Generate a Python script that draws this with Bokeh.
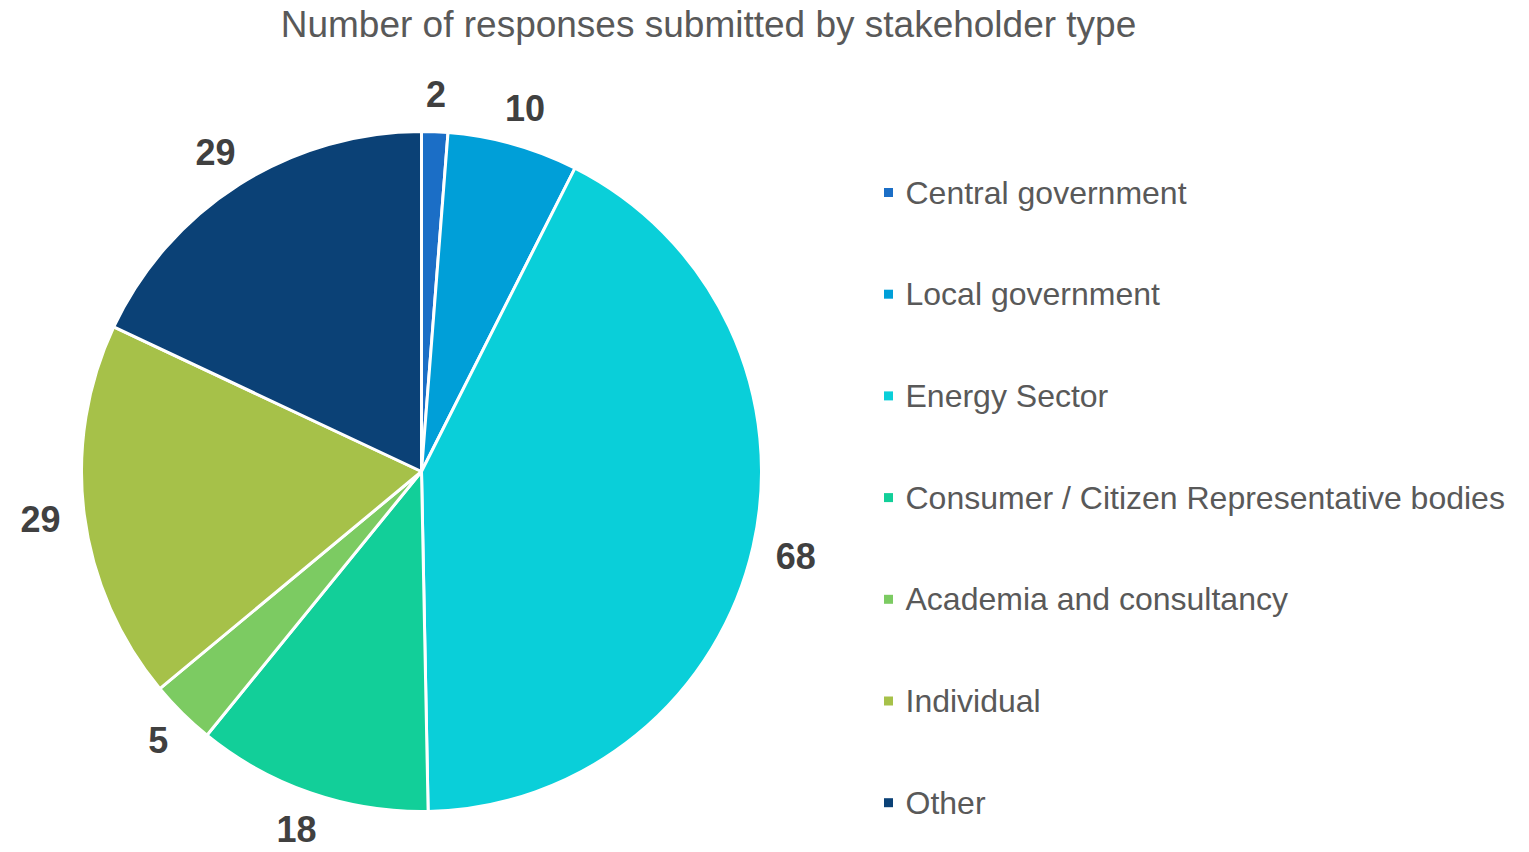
import math
from bokeh.plotting import figure
from bokeh.models import Range1d, ColumnDataSource
from bokeh.core.properties import value
from bokeh.embed import file_html
from bokeh.resources import INLINE

# ---- data ----
categories = ["Central government", "Local government", "Energy Sector",
              "Consumer / Citizen Representative bodies", "Academia and consultancy",
              "Individual", "Other"]
responses = [2, 10, 68, 18, 5, 29, 29]
colors = ["#1B6EC6", "#009FD8", "#0ACFD9", "#12CF99", "#7CCB62", "#A6C149", "#0B4176"]
title_text = "Number of responses submitted by stakeholder type"

W, H = 1525, 850
FONT = "Liberation Sans"

p = figure(width=W, height=H, output_backend="svg", toolbar_location=None,
           x_range=Range1d(0, W), y_range=Range1d(0, H), min_border=0,
           tools="")
p.axis.visible = False
p.grid.visible = False
p.outline_line_color = None
p.background_fill_color = "white"
p.border_fill_color = "white"

# screenshot coords -> data coords
def X(xs):
    return xs
def Y(ys):
    return H - ys

cx, cy, R = X(421), Y(471), 340
total = sum(responses)

starts, ends, lx, ly = [], [], [], []
cum = 0
for v in responses:
    a0 = cum / total * 2 * math.pi
    a1 = (cum + v) / total * 2 * math.pi
    starts.append(math.pi / 2 - a0)
    ends.append(math.pi / 2 - a1)
    mid = (a0 + a1) / 2
    s, c = math.sin(mid), math.cos(mid)
    # anchor just outside the rim, then push the label box outward
    d = R + 24
    half_w = 10 * len(str(v))
    half_h = 14
    lx.append(cx + d * s + half_w * s)
    ly.append(cy + d * c + half_h * c)
    cum += v

src = ColumnDataSource(dict(start=starts, end=ends, color=colors,
                            lx=lx, ly=ly, lab=[str(v) for v in responses]))

p.wedge(x=cx, y=cy, radius=R, start_angle="start", end_angle="end",
        direction="clock", fill_color="color", line_color="white",
        line_width=3, source=src)

p.text(x="lx", y="ly", text="lab", source=src, text_align="center",
       text_baseline="middle", text_font=value(FONT), text_font_size="36px",
       text_font_style="bold", text_color="#404040")

# title
p.text(x=[X(708)], y=[Y(24)], text=[title_text], text_align="center",
       text_baseline="middle", text_font=value(FONT), text_font_size="37px",
       text_color="#595959")

# legend (manual)
leg_y = [Y(192 + i * 101.7) for i in range(len(categories))]
p.scatter(x=[X(888)] * len(categories), y=leg_y, marker="square", size=9,
          fill_color=colors, line_color=None)
p.text(x=[X(905)] * len(categories), y=leg_y, text=categories,
       text_align="left", text_baseline="middle", text_font=value(FONT),
       text_font_size="32px", text_color="#595959")

open("out.html", "w").write(file_html(p, INLINE))
